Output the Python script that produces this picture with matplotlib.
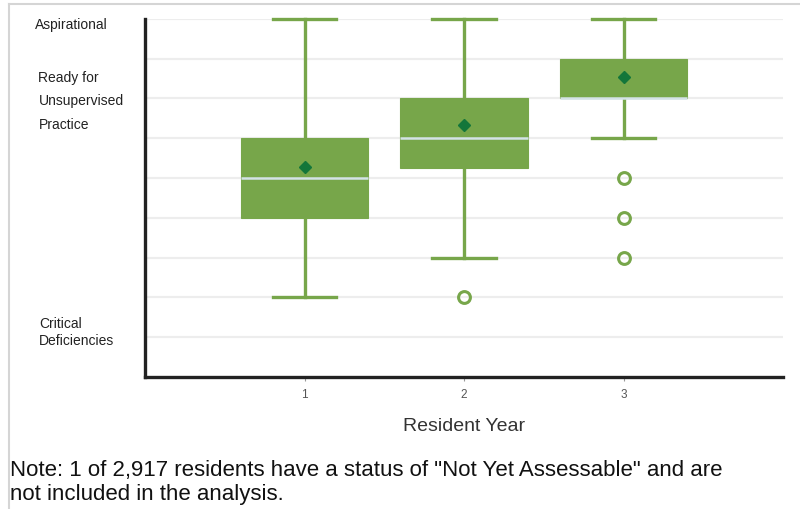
import matplotlib.pyplot as plt
from matplotlib.lines import Line2D
from matplotlib.transforms import blended_transform_factory

plt.rcParams["font.family"] = ["Liberation Sans", "DejaVu Sans"]

# summary statistics per resident year (0 = Critical Deficiencies, 9 = Aspirational)
YEARS = [1, 2, 3]
WHISKER_LOW = [2.0, 3.0, 6.0]
Q1 = [4.0, 5.25, 7.0]
MEDIAN = [5.0, 6.0, 7.0]
Q3 = [6.0, 7.0, 8.0]
WHISKER_HIGH = [9.0, 9.0, 9.0]
MEAN = [5.27, 6.33, 7.55]
OUTLIERS = [[], [2.0], [5.0, 4.0, 3.0]]

LEVEL_LABELS = ["Aspirational", "Ready for\nUnsupervised\nPractice", "Critical\nDeficiencies"]
LEVEL_POS = [8.87, 6.95, 1.15]

BOX_GREEN = "#77A64A"
MEAN_GREEN = "#13763A"
MEDIAN_COLOR = "#D3E2E6"

fig = plt.figure(figsize=(8.0, 5.1), dpi=100)
ax = fig.add_axes([0.18125, 0.259, 0.7975, 0.702])

stats = []
for i in range(len(YEARS)):
    stats.append({
        "whislo": WHISKER_LOW[i], "q1": Q1[i], "med": MEDIAN[i], "q3": Q3[i],
        "whishi": WHISKER_HIGH[i], "mean": MEAN[i], "fliers": OUTLIERS[i],
    })

ax.bxp(
    stats, positions=YEARS, widths=0.8, patch_artist=True, showmeans=True,
    boxprops=dict(facecolor=BOX_GREEN, edgecolor=BOX_GREEN, linewidth=0.8),
    medianprops=dict(color=MEDIAN_COLOR, linewidth=1.8),
    whiskerprops=dict(color=BOX_GREEN, linewidth=2.4),
    capprops=dict(color=BOX_GREEN, linewidth=2.4),
    capwidths=0.4,
    meanprops=dict(marker="D", markerfacecolor=MEAN_GREEN, markeredgecolor=MEAN_GREEN,
                   markersize=6.5),
    flierprops=dict(marker="o", markerfacecolor="none", markeredgecolor=BOX_GREEN,
                    markeredgewidth=2.2, markersize=8.5),
    zorder=3,
)
for artist in ax.lines + ax.patches:
    artist.set_clip_on(False)

ax.set_xlim(0, 4)
ax.set_ylim(0, 9)
ax.set_yticks(range(1, 10))
ax.set_yticklabels([])
ax.tick_params(axis="y", length=0)
ax.set_xticks(YEARS)
ax.set_xticklabels([str(y) for y in YEARS], fontsize=8.5, color="#555555")
ax.tick_params(axis="x", length=3, width=0.8, color="#999999", pad=5)
ax.grid(axis="y", color="#EDEDED", linewidth=1.6, zorder=0)
ax.set_axisbelow(True)

for side in ("top", "right"):
    ax.spines[side].set_visible(False)
for side in ("left", "bottom"):
    ax.spines[side].set_linewidth(2.4)
    ax.spines[side].set_color("#222222")

ax.set_xlabel("Resident Year", fontsize=14, color="#333333", labelpad=12)

trans = blended_transform_factory(fig.transFigure, ax.transData)
ax.text(0.044, LEVEL_POS[0], LEVEL_LABELS[0], transform=trans, ha="left",
        va="center", fontsize=10, color="#222222")
ax.text(0.048, LEVEL_POS[1], LEVEL_LABELS[1], transform=trans, ha="left",
        va="center", fontsize=10, color="#222222", linespacing=1.9)
ax.text(0.049, LEVEL_POS[2], LEVEL_LABELS[2], transform=trans, ha="left",
        va="center", fontsize=10, color="#222222", linespacing=1.3)

fig.text(0.012, 0.054,
         'Note: 1 of 2,917 residents have a status of "Not Yet Assessable" and are\n'
         'not included in the analysis.',
         ha="left", va="center", fontsize=16, color="#111111", linespacing=1.15)

# faint frame at the top and left edges
fig.add_artist(Line2D([0.011, 1.0], [0.99, 0.99], transform=fig.transFigure,
                      color="#D5D5D5", linewidth=1.5))
fig.add_artist(Line2D([0.011, 0.011], [0.0, 0.99], transform=fig.transFigure,
                      color="#D5D5D5", linewidth=1.5))

fig.savefig("out.png", dpi=100)
